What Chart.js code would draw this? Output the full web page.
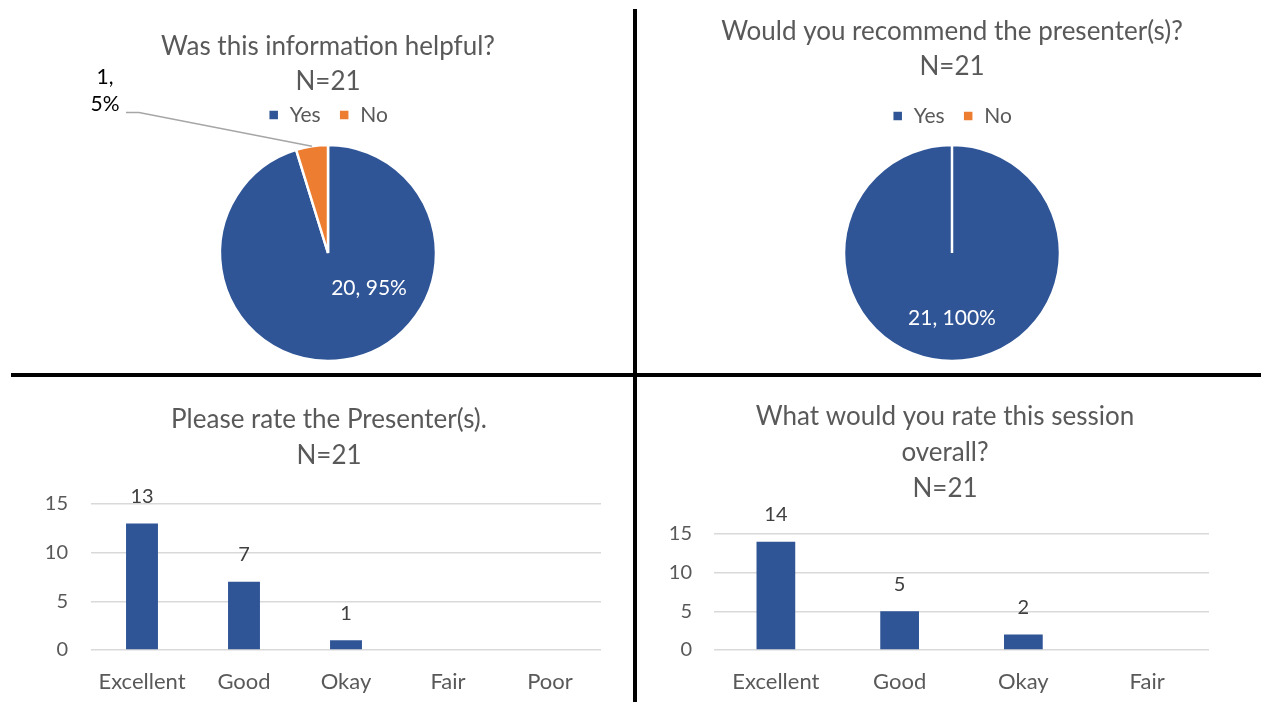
<!DOCTYPE html>
<html>
<head>
<meta charset="utf-8">
<title>Session feedback</title>
<script src="https://cdn.jsdelivr.net/npm/chart.js@4.4.0/dist/chart.umd.min.js"></script>
<style>
  html, body { margin: 0; padding: 0; background: #fff; }
  body { width: 1272px; height: 702px; position: relative; overflow: hidden; }
  canvas { position: absolute; }
  .rule { position: absolute; background: #000; z-index: 5; }
</style>
</head>
<body>
<canvas id="helpfulChart" style="left:0;top:0" width="656" height="374"></canvas>
<canvas id="recommendChart" style="left:640px;top:0" width="624" height="374"></canvas>
<canvas id="presenterChart" style="left:0;top:377px" width="634" height="325"></canvas>
<canvas id="sessionChart" style="left:640px;top:377px" width="632" height="325"></canvas>
<div class="rule" style="left:633px;top:9px;width:4px;height:693px"></div>
<div class="rule" style="left:11px;top:373px;width:1250px;height:4px"></div>

<script>
// survey answers, N=21
const yesNo = ['Yes', 'No'];
const helpfulCounts = [20, 1];
const recommendCounts = [21, 0];

const presenterRatings = ['Excellent', 'Good', 'Okay', 'Fair', 'Poor'];
const presenterCounts = [13, 7, 1, 0, 0];

const sessionRatings = ['Excellent', 'Good', 'Okay', 'Fair'];
const sessionCounts = [14, 5, 2, 0];

const countMax = 15;
const countStep = 5;

const FONT = 'Lato';
const BLUE = '#2f5597';
const ORANGE = '#ed7d31';
const GREY_TEXT = '#595959';

Chart.defaults.font.family = FONT;
Chart.defaults.color = GREY_TEXT;

// "n, p%" labels on pie slices; spot = offset from centre in radii
const sliceLabels = {
  id: 'sliceLabels',
  afterDatasetsDraw(chart, args, opts) {
    const { ctx } = chart;
    const data = chart.data.datasets[0].data;
    const total = data.reduce((a, b) => a + b, 0);
    chart.getDatasetMeta(0).data.forEach((arc, i) => {
      const spot = opts.spots[i];
      if (!spot || !data[i]) return;
      const { x, y, outerRadius, startAngle, endAngle } =
        arc.getProps(['x', 'y', 'outerRadius', 'startAngle', 'endAngle'], true);
      const pct = Math.round(data[i] / total * 100) + '%';
      const lx = x + spot.dx * outerRadius;
      const ly = y + spot.dy * outerRadius;
      ctx.save();
      ctx.font = '21px ' + FONT;
      ctx.textAlign = 'center';
      ctx.textBaseline = 'middle';
      if (spot.outside) {
        const mid = (startAngle + endAngle) / 2;
        ctx.strokeStyle = '#a6a6a6';
        ctx.lineWidth = 1.5;
        ctx.beginPath();
        ctx.moveTo(lx + 21, ly + 21.5);
        ctx.lineTo(lx + 34, ly + 21.5);
        ctx.lineTo(x + Math.cos(mid) * outerRadius, y + Math.sin(mid) * outerRadius);
        ctx.stroke();
        ctx.fillStyle = '#000';
        ctx.fillText(data[i] + ',', lx, ly - 13.5);
        ctx.fillText(pct, lx, ly + 13.5);
      } else {
        ctx.fillStyle = '#fff';
        ctx.fillText(data[i] + ', ' + pct, lx, ly);
      }
      ctx.restore();
    });
  }
};

// value above each bar
const barValues = {
  id: 'barValues',
  afterDatasetsDraw(chart) {
    const { ctx } = chart;
    const data = chart.data.datasets[0].data;
    ctx.save();
    ctx.font = '20px ' + FONT;
    ctx.fillStyle = '#404040';
    ctx.textAlign = 'center';
    ctx.textBaseline = 'middle';
    chart.getDatasetMeta(0).data.forEach((bar, i) => {
      if (!data[i]) return;
      ctx.fillText(String(data[i]), bar.x, bar.y - 27);
    });
    ctx.restore();
  }
};

function pieChart(id, title, counts, titlePad, bottomPad, spots) {
  return new Chart(document.getElementById(id), {
    type: 'pie',
    data: {
      labels: yesNo,
      datasets: [{
        data: counts,
        backgroundColor: [BLUE, ORANGE],
        borderColor: '#fff',
        borderWidth: 2.5,
        radius: 108
      }]
    },
    options: {
      responsive: false,
      animation: false,
      layout: { padding: { bottom: bottomPad } },
      plugins: {
        title: {
          display: true,
          text: title,
          color: GREY_TEXT,
          font: { size: 26, weight: 'normal', lineHeight: 35 / 26 },
          padding: titlePad
        },
        legend: {
          position: 'top',
          labels: {
            boxWidth: 11,
            boxHeight: 11,
            padding: 18,
            color: GREY_TEXT,
            font: { size: 21 }
          }
        },
        tooltip: { enabled: false },
        sliceLabels: { spots }
      }
    },
    plugins: [sliceLabels]
  });
}

// side = { padL, padR, yWidth, yPad, spareRight } keeps the title centred where it should be
function barChart(id, title, labels, counts, side, titlePad) {
  return new Chart(document.getElementById(id), {
    type: 'bar',
    data: {
      labels,
      datasets: [{
        data: counts,
        backgroundColor: BLUE,
        categoryPercentage: 1,
        barPercentage: 0.313
      }]
    },
    options: {
      responsive: false,
      animation: false,
      layout: { padding: { left: side.padL, right: side.padR, bottom: 0 } },
      scales: {
        x: {
          grid: { display: false, drawTicks: false },
          border: { display: false },
          ticks: { padding: 19, color: GREY_TEXT, font: { size: 22 } },
          afterFit(scale) { scale.height = 52; }
        },
        y: {
          min: 0,
          max: countMax,
          ticks: { stepSize: countStep, padding: side.yPad, color: GREY_TEXT, font: { size: 20 } },
          grid: { color: '#d9d9d9', lineWidth: 1.5, drawTicks: false },
          border: { display: false },
          afterFit(scale) { scale.width = side.yWidth; }
        },
        spare: {
          type: 'linear',
          axis: 'y',
          position: 'right',
          grid: { display: false, drawTicks: false },
          ticks: { display: false },
          border: { display: false },
          afterFit(scale) { scale.width = side.spareRight; }
        }
      },
      plugins: {
        title: {
          display: true,
          text: title,
          color: GREY_TEXT,
          font: { size: 26, weight: 'normal', lineHeight: 36 / 26 },
          padding: titlePad
        },
        legend: { display: false },
        tooltip: { enabled: false }
      }
    },
    plugins: [barValues]
  });
}

pieChart('helpfulChart', ['Was this information helpful?', 'N=21'], helpfulCounts,
  { top: 29, bottom: -12.5 }, 3.5,
  [{ dx: 0.38, dy: 0.33 }, { dx: -2.065, dy: -1.5, outside: true }]);

pieChart('recommendChart', ['Would you recommend the presenter(s)?', 'N=21'], recommendCounts,
  { top: 14, bottom: 3.5 }, 4.5,
  [{ dx: 0, dy: 0.6 }, null]);

barChart('presenterChart', ['Please rate the Presenter(s).', 'N=21'],
  presenterRatings, presenterCounts,
  { padL: 40, padR: 16, yWidth: 51, yPad: 23, spareRight: 17 }, { top: 24.5, bottom: 30.5 });

barChart('sessionChart', ['What would you rate this session', 'overall?', 'N=21'],
  sessionRatings, sessionCounts,
  { padL: 22, padR: 44, yWidth: 52, yPad: 22, spareRight: 19 }, { top: 21.5, bottom: 27.5 });
</script>
</body>
</html>
